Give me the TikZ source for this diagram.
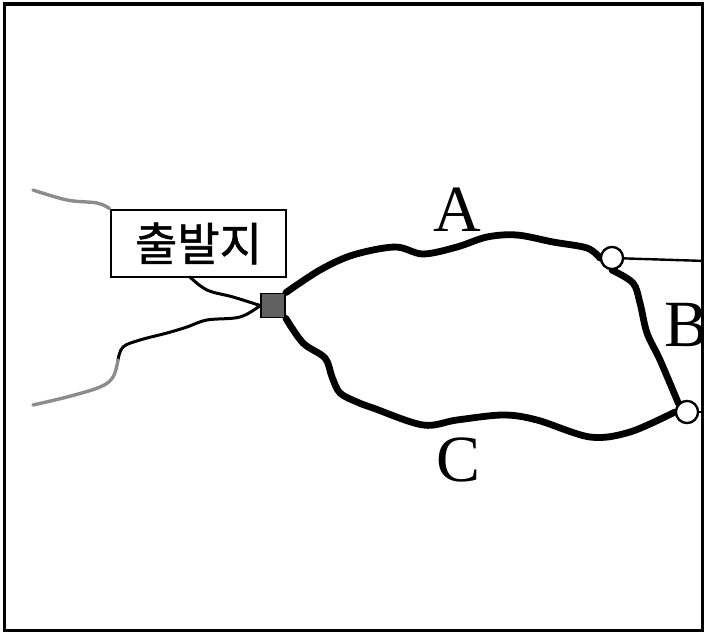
\documentclass[tikz,border=0pt]{standalone}
\usepackage{fontspec}
\setmainfont{Liberation Serif}
\newfontfamily\kr[FakeBold=1.2]{Noto Sans CJK KR}
\begin{document}
\begin{tikzpicture}[x=1pt,y=-1pt,
  road/.style={line width=6.8pt, line cap=round, line join=round},
  thinroad/.style={line width=3pt, line cap=round, line join=round},
  grayroad/.style={line width=3.4pt, line cap=round, line join=round, draw=black!45},
  junction/.style={circle, draw=black, fill=white, line width=2.2pt, minimum size=22pt, inner sep=0pt},
  start/.style={rectangle, draw=black, fill=black!62, line width=1.8pt, minimum size=24pt, inner sep=0pt},
  lbl/.style={font=\fontsize{66}{66}\selectfont, inner sep=0pt},
  krbox/.style={rectangle, draw=black, fill=white, line width=2.8pt, minimum width=175pt, minimum height=67pt, inner sep=0pt, font=\kr\fontsize{46}{46}\selectfont}
]
\useasboundingbox (0,0) rectangle (704,634);
\begin{scope}
\clip (0,0) rectangle (704,634);
\fill[white] (0,0) rectangle (704,634);

% nodes
\node[start] (S) at (273,305.5) {};
\node[junction] (J1) at (612,258) {};
\node[junction] (J2) at (687,412) {};
\node[krbox] (box) at (198.5,243.5) {출발지};
\coordinate (gtl) at (33,190);
\coordinate (gbl) at (33,405);
\coordinate (mid) at (118,360);
\coordinate (eR1) at (706,261);
\coordinate (eR2) at (706,412);

% thin roads on the left
\draw[grayroad] plot[smooth, tension=0.6] coordinates {(gtl) (67,200) (97,203) (box.north west)};
\draw[thinroad] plot[smooth, tension=0.6] coordinates {(190,277) (207,290) (233,297) (S.west)};
\draw[thinroad] plot[smooth, tension=0.6] coordinates {(S.west) (240,317) (207,320) (187,327) (167,333) (140,340) (123,347) (mid)};
\draw[grayroad] plot[smooth, tension=0.6] coordinates {(mid) (113,377) (100,387) (67,397) (gbl)};

% thin roads on the right
\draw[line width=2.4pt] (J1) -- (eR1);
\draw[line width=2.4pt] (J2) -- (eR2);

% main roads
\draw[road] plot[smooth, tension=0.55] coordinates {(S.north east) (320,270) (353,255) (395,247) (423,254) (457,247) (487,237) (517,235) (553,242) (587,248) (J1.west)};
\draw[road] plot[smooth, tension=0.55] coordinates {(S.south east) (303,343) (325,358) (332,377) (340,393) (357,402) (373,408) (423,425) (457,420) (503,415) (537,420) (590,437) (630,432) (J2.west)};
\draw[road] plot[smooth, tension=0.55] coordinates {(J1.south) (633,283) (640,303) (647,333) (660,360) (J2.north west)};

% redraw junctions on top
\node[junction] at (J1) {};
\node[junction] at (J2) {};
\node[start] at (S) {};

% labels
\node[lbl] (A) at (457,210) {A};
\node[lbl] (C) at (459,460) {C};
\node[lbl, anchor=west] (B) at (664,325) {B};

% frame
\draw[line width=3.6pt] (4.5,4) rectangle (703,630.5);
\end{scope}
\end{tikzpicture}
\end{document}
